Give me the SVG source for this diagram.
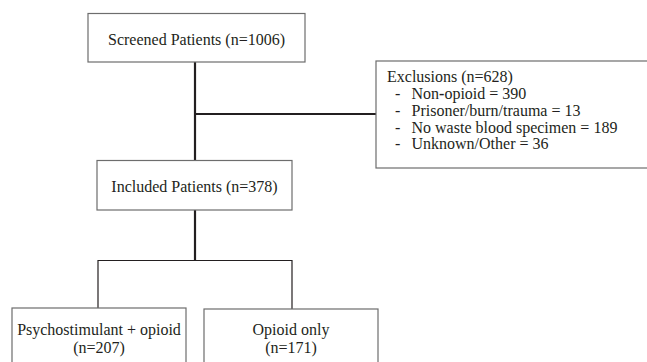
<svg xmlns="http://www.w3.org/2000/svg" width="647" height="362" viewBox="0 0 647 362">
<style>
.box{fill:#fff;stroke:#6d6d6d;stroke-width:1.2}
.t{font-size:16px;fill:#231f20}
.c{text-anchor:middle}
.thick{stroke:#231f20;stroke-width:2.2;fill:none}
.thin{stroke:#231f20;stroke-width:1.2;fill:none}
</style>
<rect width="647" height="362" fill="#fff"/>
<g id="connectors">
<line class="thick" x1="195" y1="62" x2="195" y2="161"/>
<line class="thick" x1="195" y1="114" x2="376" y2="114"/>
<line class="thick" x1="195" y1="210" x2="195" y2="261"/>
<polyline class="thin" points="98,308 98,260.5 292,260.5 292,309"/>
</g>
<g font-family="'Liberation Serif', 'DejaVu Serif', serif">
<g id="screened">
<rect class="box" x="88" y="13.5" width="217" height="48.5"/>
<text class="t c" x="196.5" y="44.5">Screened Patients (n=1006)</text>
</g>
<g id="exclusions">
<rect class="box" x="376" y="61" width="290" height="107"/>
<text class="t" x="387" y="82">Exclusions (n=628)</text>
<text class="t" x="395" y="99">-</text>
<text class="t" x="411.5" y="99">Non<tspan font-weight="bold">-</tspan>opioid = 390</text>
<text class="t" x="395" y="116">-</text>
<text class="t" x="411.5" y="116">Prisoner/burn/trauma = 13</text>
<text class="t" x="395" y="132.7">-</text>
<text class="t" x="411.5" y="132.7">No waste blood specimen = 189</text>
<text class="t" x="395" y="149.4">-</text>
<text class="t" x="411.5" y="149.4">Unknown/Other = 36</text>
</g>
<g id="included">
<rect class="box" x="97" y="160.5" width="195" height="49.5"/>
<text class="t c" x="194.5" y="191.5">Included Patients (n=378)</text>
</g>
<g id="psychostimulant">
<rect class="box" x="12" y="308" width="174" height="70"/>
<text class="t c" x="99" y="335">Psychostimulant + opioid</text>
<text class="t c" x="99" y="353.3">(n=207)</text>
</g>
<g id="opioid">
<rect class="box" x="204" y="309" width="174" height="70"/>
<text class="t c" x="291" y="335">Opioid only</text>
<text class="t c" x="291" y="353.3">(n=171)</text>
</g>
</g>
</svg>
